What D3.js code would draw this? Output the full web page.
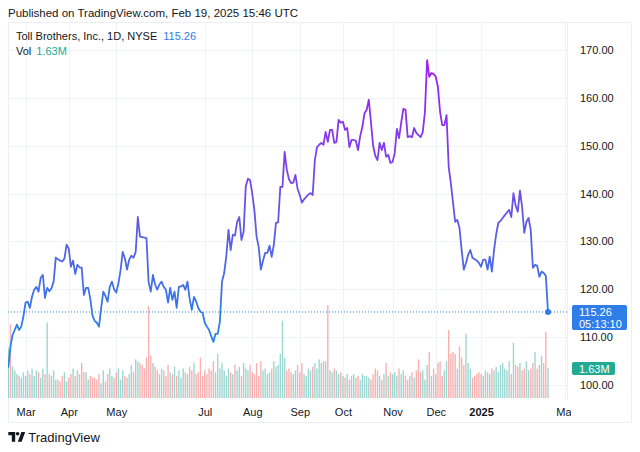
<!DOCTYPE html>
<html>
<head>
<meta charset="utf-8">
<script src="https://cdn.jsdelivr.net/npm/d3@7"></script>
<style>
  html, body { margin: 0; padding: 0; background: #fff; }
  svg { display: block; font-family: "Liberation Sans", Arial, sans-serif; }
</style>
</head>
<body>
<svg id="chart"></svg>
<script>
// daily closes, Feb 20 2024 .. Feb 19 2025 (one per trading day)
const closes = [
  103.6, 108.0, 110.5, 111.5, 112.6, 111.5, 112.2, 114.3, 117.2, 117.4,
  116.1, 118.5, 119.9, 120.5, 119.5, 122.4, 123.0, 118.2, 120.3, 119.6,
  120.2, 121.6, 126.6, 126.3, 126.0, 125.8, 126.4, 129.3, 128.5, 124.7,
  126.0, 123.2, 125.1, 124.6, 124.5, 118.8, 120.3, 120.3, 118.0, 114.5,
  113.4, 113.0, 112.2, 116.0, 119.5, 118.6, 117.4, 120.5, 121.6, 120.0,
  119.3, 121.2, 124.0, 127.8, 126.5, 124.1, 126.2, 127.0, 126.6, 127.8,
  135.1, 131.0, 130.9, 130.8, 130.7, 121.5, 119.5, 123.0, 121.0, 119.9,
  121.0, 121.6, 120.5, 119.9, 117.2, 120.3, 117.8, 119.5, 116.1, 120.5,
  120.6, 120.9, 119.9, 121.6, 118.0, 115.7, 118.4, 117.5, 116.1, 115.3,
  115.1, 113.0, 112.2, 111.5, 110.2, 109.0, 110.7, 110.7, 113.2, 121.6,
  123.4, 127.0, 132.4, 128.2, 131.4, 131.2, 134.1, 135.1, 130.3, 132.0,
  141.5, 143.1, 142.8, 140.0, 136.5, 131.0, 128.8, 124.1, 126.0, 127.6,
  127.6, 129.1, 126.8, 129.3, 133.9, 134.0, 141.4, 141.4, 148.7, 145.0,
  143.0, 142.2, 142.3, 143.9, 141.0, 139.7, 138.1, 138.8, 139.3, 139.8,
  140.1, 139.7, 147.0, 149.7, 150.2, 150.6, 150.2, 152.9, 150.8, 153.3,
  153.3, 150.6, 150.8, 155.4, 154.8, 155.0, 153.3, 153.7, 149.7, 151.2,
  151.2, 151.0, 149.1, 152.0, 153.9, 156.8, 157.5, 159.6, 154.8, 150.0,
  147.9, 147.0, 150.6, 149.1, 150.6, 147.7, 148.1, 146.4, 146.6, 148.5,
  153.5, 151.6, 154.8, 157.7, 157.5, 151.8, 152.0, 151.8, 153.7, 152.7,
  152.2, 151.8, 152.9, 157.1, 167.9, 164.4, 165.2, 165.0, 164.4, 162.3,
  157.1, 154.3, 154.3, 156.4, 145.6, 142.2, 138.1, 134.1, 134.5, 132.8,
  128.2, 124.1, 125.5, 127.2, 128.2, 126.6, 126.3, 126.0, 125.5, 124.7,
  126.2, 126.2, 124.1, 126.8, 123.7, 128.2, 131.5, 133.9, 134.3, 134.9,
  135.5, 136.0, 136.6, 135.1, 140.1, 137.5, 136.2, 140.6, 137.2, 131.8,
  134.1, 134.9, 132.4, 124.5, 125.1, 124.9, 122.6, 123.7, 123.4, 122.8,
  115.26
];

// volume in millions
const volumes = [
  2.7, 4.0, 1.7, 1.5, 1.3, 1.2, 1.1, 1.4, 1.2, 1.5,
  1.3, 1.6, 1.2, 1.5, 1.4, 1.1, 1.6, 1.3, 4.1, 1.3,
  1.2, 1.5, 1.0, 1.0, 0.9, 1.2, 1.4, 0.9, 1.1, 1.3,
  1.6, 1.2, 1.5, 1.3, 1.9, 1.4, 1.4, 1.0, 1.2, 1.1,
  1.1, 1.0, 1.3, 0.8, 1.5, 0.9, 1.3, 1.6, 1.2, 1.1,
  1.4, 1.6, 1.0, 1.5, 1.2, 1.1, 1.3, 1.8, 1.4, 2.1,
  2.0, 1.9, 1.8, 1.6, 2.2, 5.0, 2.3, 1.9, 1.7, 1.5,
  1.3, 1.6, 1.5, 1.2, 1.8, 1.4, 1.3, 1.7, 1.2, 1.5,
  1.1, 1.6, 1.4, 1.3, 1.7, 1.5, 1.9, 1.3, 1.4, 2.2,
  1.2, 1.5, 1.3, 1.6, 1.5, 2.0, 1.4, 2.4, 1.6, 1.9,
  1.5, 1.2, 1.6, 1.4, 1.3, 1.8, 1.5, 1.7, 1.2, 1.9,
  1.6, 1.5, 1.8, 1.4, 1.3, 1.9, 1.2, 2.0, 1.5, 1.6,
  1.3, 1.4, 1.6, 2.0, 1.7, 1.8, 2.4, 4.2, 2.2, 1.5,
  1.6, 1.4, 1.3, 1.5, 1.8, 1.4, 1.9, 1.3, 1.2, 1.6,
  1.5, 1.7, 1.9, 1.6, 2.1, 1.9, 2.0, 2.0, 5.05, 1.5,
  1.4, 1.6, 1.5, 1.3, 1.4, 1.2, 1.1, 1.3, 1.0, 1.2,
  1.3, 1.1, 1.2, 1.0, 1.3, 1.2, 1.2, 1.1, 1.0, 1.3,
  1.6, 1.5, 1.2, 1.0, 1.3, 1.9, 1.2, 1.4, 1.3, 1.4,
  1.2, 1.6, 1.3, 1.5, 1.2, 1.0, 1.2, 1.4, 1.1, 1.5,
  2.1, 1.4, 1.5, 1.0, 1.8, 2.5, 1.2, 1.6, 1.3, 1.9,
  2.0, 1.2, 1.5, 2.0, 3.7, 2.4, 2.5, 2.4, 1.6, 2.8,
  2.2, 1.8, 3.5, 1.9, 1.6, 1.1, 1.2, 1.3, 1.4, 1.3,
  1.2, 1.5, 1.4, 1.3, 1.6, 1.5, 1.7, 1.4, 1.8, 1.9,
  1.6, 1.5, 2.0, 1.3, 3.0, 1.8, 1.7, 1.9, 1.5, 1.6,
  2.0, 1.5, 1.6, 1.9, 2.5, 1.6, 1.8, 2.3, 1.9, 3.6,
  1.63
];
// bars whose candle colour differs from the close-to-close move
const volDirOverride = { 1: false, 250: true };

const priceTicks = [100, 110, 120, 130, 140, 150, 160, 170];
const tickIdx = [8, 28, 50, 91, 113, 135, 155, 178, 198, 219, 258];
const tickLabels = ['Mar', 'Apr', 'May', 'Jul', 'Aug', 'Sep', 'Oct', 'Nov', 'Dec', '2025', 'Mar'];

const lastPrice = 115.26;
const lastVol = '1.63M';

const width = 640, height = 452;
const frame = { left: 8, top: 22, right: 632, bottom: 423 };
const paneRight = 567;
const volBase = 398;

const svg = d3.select('#chart').attr('width', width).attr('height', height);

const x = d3.scaleLinear().domain([0, closes.length - 1]).range([8.3, 548]);
const y = d3.scaleLinear().domain([100, 170]).range([385, 50]);
const yVol = d3.scaleLinear().domain([0, 5]).range([volBase, volBase - 92]);

const blue = '#2f7de8';
const textCol = '#131722';

// gradient for the line
const defs = svg.append('defs');
const grad = defs.append('linearGradient')
  .attr('id', 'lineGrad')
  .attr('gradientUnits', 'userSpaceOnUse')
  .attr('x1', 0).attr('x2', 0)
  .attr('y1', y(168)).attr('y2', y(108));
grad.append('stop').attr('offset', 0).attr('stop-color', '#a21cf2');
grad.append('stop').attr('offset', 0.5).attr('stop-color', '#6b52e3');
grad.append('stop').attr('offset', 1).attr('stop-color', '#2586e6');

defs.append('clipPath').attr('id', 'pane')
  .append('rect')
  .attr('x', frame.left).attr('y', frame.top)
  .attr('width', paneRight - frame.left).attr('height', volBase + 2 - frame.top);

defs.append('clipPath').attr('id', 'timeClip')
  .append('rect')
  .attr('x', frame.left).attr('y', volBase)
  .attr('width', 571 - frame.left).attr('height', 25);

// Header
svg.append('text')
  .attr('x', 8).attr('y', 17)
  .attr('font-size', 11.5)
  .attr('fill', textCol)
  .text('Published on TradingView.com, Feb 19, 2025 15:46 UTC');

// Frame
svg.append('rect')
  .attr('x', frame.left + 0.5).attr('y', frame.top + 0.5)
  .attr('width', frame.right - frame.left - 1).attr('height', frame.bottom - frame.top - 1)
  .attr('fill', 'none')
  .attr('stroke', '#eceff4');

svg.append('line')
  .attr('x1', paneRight + 0.5).attr('x2', paneRight + 0.5)
  .attr('y1', frame.top).attr('y2', 400)
  .attr('stroke', '#eceff4');

// Grid
const grid = svg.append('g').attr('clip-path', 'url(#pane)');
grid.selectAll('.hgrid')
  .data(priceTicks)
  .join('line')
  .attr('x1', frame.left).attr('x2', paneRight)
  .attr('y1', d => Math.round(y(d)) + 0.5).attr('y2', d => Math.round(y(d)) + 0.5)
  .attr('stroke', '#f0f3fa');
grid.selectAll('.vgrid')
  .data(tickIdx)
  .join('line')
  .attr('x1', d => Math.round(x(d)) + 0.5).attr('x2', d => Math.round(x(d)) + 0.5)
  .attr('y1', frame.top).attr('y2', volBase + 2)
  .attr('stroke', '#f0f3fa');

// Volume bars
const pane = svg.append('g').attr('clip-path', 'url(#pane)');
pane.selectAll('.vol')
  .data(volumes)
  .join('rect')
  .attr('x', (d, i) => x(i) - 0.7)
  .attr('width', 1.4)
  .attr('y', d => yVol(d))
  .attr('height', d => volBase - yVol(d))
  .attr('fill', (d, i) => {
    let up = i === 0 ? true : closes[i] >= closes[i - 1];
    if (i in volDirOverride) up = volDirOverride[i];
    return up ? 'rgba(38,166,154,0.45)' : 'rgba(239,83,80,0.45)';
  });

// Last price dotted line
pane.append('line')
  .attr('x1', frame.left).attr('x2', paneRight)
  .attr('y1', y(lastPrice)).attr('y2', y(lastPrice))
  .attr('stroke', blue)
  .attr('stroke-width', 1)
  .attr('stroke-dasharray', '1,2');

// Price line
const line = d3.line().x((d, i) => x(i)).y(d => y(d)).curve(d3.curveLinear);
pane.append('path')
  .datum(closes)
  .attr('d', line)
  .attr('fill', 'none')
  .attr('stroke', 'url(#lineGrad)')
  .attr('stroke-width', 1.8)
  .attr('stroke-linejoin', 'round');

pane.append('circle')
  .attr('cx', x(closes.length - 1)).attr('cy', y(lastPrice))
  .attr('r', 3)
  .attr('fill', blue);

// Price axis
const yAxis = d3.axisRight(y)
  .tickValues(priceTicks)
  .tickFormat(d3.format('.2f'))
  .tickSize(0)
  .tickPadding(0);
const yAxisG = svg.append('g')
  .attr('transform', 'translate(580,0)')
  .call(yAxis);
yAxisG.select('.domain').remove();
yAxisG.selectAll('text')
  .attr('font-family', '"Liberation Sans", Arial, sans-serif')
  .attr('font-size', 11)
  .attr('fill', textCol);

// Time axis
const xAxis = d3.axisBottom(x)
  .tickValues(tickIdx)
  .tickFormat((d, i) => tickLabels[i])
  .tickSize(0)
  .tickPadding(0);
const xAxisG = svg.append('g')
  .attr('clip-path', 'url(#timeClip)')
  .append('g')
  .attr('transform', 'translate(0,408)')
  .call(xAxis);
xAxisG.select('.domain').remove();
xAxisG.selectAll('text')
  .attr('font-family', '"Liberation Sans", Arial, sans-serif')
  .attr('font-size', 11)
  .attr('fill', textCol)
  .attr('dy', 0)
  .attr('y', 8)
  .attr('font-weight', (d, i) => tickLabels[i] === '2025' ? 'bold' : 'normal');

// Price label box
svg.append('rect')
  .attr('x', 572).attr('y', 305)
  .attr('width', 55).attr('height', 25)
  .attr('rx', 2)
  .attr('fill', blue);
svg.append('text')
  .attr('x', 579).attr('y', 316)
  .attr('font-size', 11).attr('fill', '#fff')
  .text(lastPrice.toFixed(2));
svg.append('text')
  .attr('x', 579).attr('y', 327.5)
  .attr('font-size', 11).attr('fill', '#fff')
  .text('05:13:10');

// Volume label box
svg.append('rect')
  .attr('x', 572).attr('y', 362)
  .attr('width', 43).attr('height', 13)
  .attr('rx', 2)
  .attr('fill', '#22ab94');
svg.append('text')
  .attr('x', 579).attr('y', 372.5)
  .attr('font-size', 11).attr('fill', '#fff')
  .text(lastVol);

// Legend
const leg1 = svg.append('text')
  .attr('x', 16).attr('y', 39.5)
  .attr('font-size', 11).attr('fill', textCol);
leg1.append('tspan').text('Toll Brothers, Inc., 1D, NYSE');
leg1.append('tspan').attr('dx', 6).attr('fill', blue).text(lastPrice.toFixed(2));

const leg2 = svg.append('text')
  .attr('x', 16).attr('y', 54.5)
  .attr('font-size', 11).attr('fill', textCol);
leg2.append('tspan').text('Vol');
leg2.append('tspan').attr('dx', 5).attr('fill', '#22ab94').text(lastVol);

// TradingView logo
const logo = svg.append('g').attr('fill', textCol);
logo.append('path').attr('d', 'M8.3,432 H15.2 V441.8 H11.8 V435.3 H8.3 Z');
logo.append('circle').attr('cx', 17.6).attr('cy', 433.8).attr('r', 1.8);
logo.append('path').attr('d', 'M21.4,432 H25.2 L21.6,441.8 H17.8 Z');
svg.append('text')
  .attr('x', 28.3).attr('y', 442)
  .attr('font-size', 13).attr('fill', textCol)
  .text('TradingView');
</script>
</body>
</html>
